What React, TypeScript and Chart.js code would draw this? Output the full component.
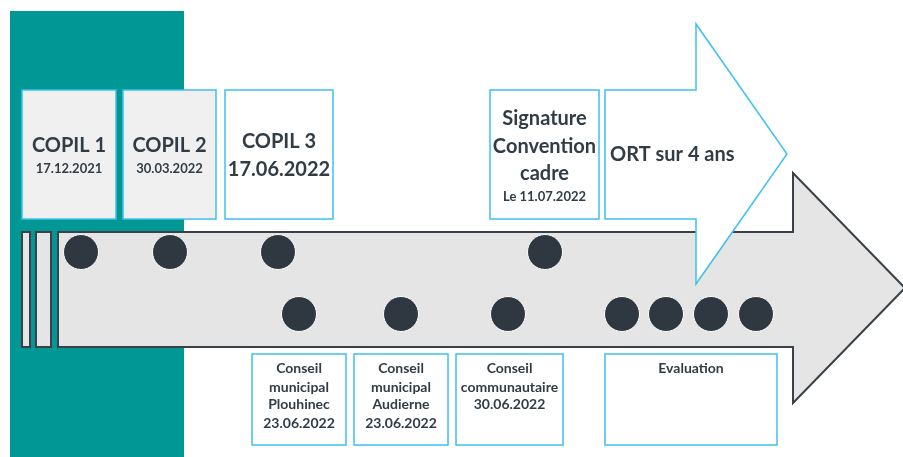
import React, { useEffect, useRef } from "react";
import { Chart, registerables } from "chart.js";

Chart.register(...registerables);

// Milestone markers (x along the timeline, y row)
const milestoneNames = ["COPIL 1", "COPIL 2", "COPIL 3", "Signature", "Plouhinec", "Audierne", "Communautaire", "Eval 1", "Eval 2", "Eval 3", "Eval 4"];
const milestoneX = [81, 170, 278, 545, 299, 401, 508, 622, 666, 711, 756];
const milestoneY = [252, 252, 252, 252, 314, 314, 314, 314, 314, 314, 314];

// Top boxes
const topBoxX0 = [22, 123, 225, 490];
const topBoxX1 = [116, 216, 333, 599];
const topBoxFill = ["#f0f0f0", "#f0f0f0", "#ffffff", "#ffffff"];
const topBoxLines = [
  [["COPIL 1", 20, 146], ["17.12.2021", 13, 169]],
  [["COPIL 2", 20, 146], ["30.03.2022", 13, 169]],
  [["COPIL 3", 20, 142], ["17.06.2022", 20, 170]],
  [["Signature", 20, 119], ["Convention", 20, 147], ["cadre", 20, 174], ["Le 11.07.2022", 13, 197]],
];
const topBoxY = [90, 219];

// Bottom boxes
const bottomBoxX0 = [252, 354, 456, 605];
const bottomBoxX1 = [346, 448, 563, 777];
const bottomBoxY = [354, 445];
const bottomBoxLines = [
  ["Conseil", "municipal", "Plouhinec", "23.06.2022"],
  ["Conseil", "municipal", "Audierne", "23.06.2022"],
  ["Conseil", "communautaire", "30.06.2022"],
  ["Evaluation"],
];
const bottomLineY = [368, 387, 404, 423];

// ORT arrow outline
const ortArrowX = [605, 696, 696, 787, 696, 696, 605];
const ortArrowY = [90, 90, 24, 154, 284, 219, 219];
const ortLabel = "ORT sur 4 ans";

// Grey timeline arrow
const greyArrowX = [58, 793, 793, 905, 793, 793, 58];
const greyArrowY = [232, 232, 173, 288, 403, 347, 347];
const greyBarsX0 = [22, 36];
const greyBarsX1 = [30, 51];

// Teal background panel
const tealX = [10, 184];
const tealY = [11, 457];

const TEXT = "#323c46";
const BLUE = "#3ec1f0";
const FONT = "Lato";

const drawPlugin = {
  id: "timelineShapes",
  beforeDatasetsDraw(chart: any) {
    const { ctx, scales } = chart;
    const px = (v: number) => scales.x.getPixelForValue(v);
    const py = (v: number) => scales.y.getPixelForValue(v);
    ctx.save();
    ctx.fillStyle = "#009794";
    ctx.fillRect(px(tealX[0]), py(tealY[0]), px(tealX[1]) - px(tealX[0]), py(tealY[1]) - py(tealY[0]));

    ctx.lineWidth = 1.5;
    for (let i = 0; i < topBoxX0.length; i++) {
      const x0 = px(topBoxX0[i]), x1 = px(topBoxX1[i]);
      const y0 = py(topBoxY[0]), y1 = py(topBoxY[1]);
      ctx.fillStyle = topBoxFill[i];
      ctx.fillRect(x0, y0, x1 - x0, y1 - y0);
      ctx.strokeStyle = BLUE;
      ctx.strokeRect(x0, y0, x1 - x0, y1 - y0);
    }

    ctx.fillStyle = "#e5e5e5";
    ctx.strokeStyle = "#3a4149";
    ctx.lineWidth = 2;
    ctx.lineJoin = "miter";
    for (let i = 0; i < greyBarsX0.length; i++) {
      const x0 = px(greyBarsX0[i]), x1 = px(greyBarsX1[i]);
      const y0 = py(greyArrowY[0]), y1 = py(greyArrowY[6]);
      ctx.fillRect(x0, y0, x1 - x0, y1 - y0);
      ctx.strokeRect(x0, y0, x1 - x0, y1 - y0);
    }
    ctx.beginPath();
    greyArrowX.forEach((x, i) => {
      if (i === 0) ctx.moveTo(px(x), py(greyArrowY[i]));
      else ctx.lineTo(px(x), py(greyArrowY[i]));
    });
    ctx.closePath();
    ctx.fill();
    ctx.stroke();

    ctx.fillStyle = "#ffffff";
    ctx.strokeStyle = BLUE;
    ctx.lineWidth = 1.5;
    ctx.beginPath();
    ortArrowX.forEach((x, i) => {
      if (i === 0) ctx.moveTo(px(x), py(ortArrowY[i]));
      else ctx.lineTo(px(x), py(ortArrowY[i]));
    });
    ctx.closePath();
    ctx.fill();
    ctx.stroke();

    for (let i = 0; i < bottomBoxX0.length; i++) {
      const x0 = px(bottomBoxX0[i]), x1 = px(bottomBoxX1[i]);
      const y0 = py(bottomBoxY[0]), y1 = py(bottomBoxY[1]);
      ctx.fillStyle = "#ffffff";
      ctx.fillRect(x0, y0, x1 - x0, y1 - y0);
      ctx.strokeRect(x0, y0, x1 - x0, y1 - y0);
    }

    ctx.fillStyle = TEXT;
    ctx.textAlign = "center";
    ctx.textBaseline = "middle";
    for (let i = 0; i < topBoxLines.length; i++) {
      const cx = px((topBoxX0[i] + topBoxX1[i]) / 2);
      for (const [t, s, y] of topBoxLines[i] as any) {
        ctx.font = `bold ${s}px ${FONT}`;
        ctx.fillText(t, cx, py(y));
      }
    }
    for (let i = 0; i < bottomBoxLines.length; i++) {
      const cx = px((bottomBoxX0[i] + bottomBoxX1[i]) / 2);
      bottomBoxLines[i].forEach((t, j) => {
        ctx.font = `bold 14px ${FONT}`;
        ctx.fillText(t, cx, py(bottomLineY[j]));
      });
    }
    ctx.textAlign = "left";
    ctx.font = `bold 20px ${FONT}`;
    ctx.fillText(ortLabel, px(610), py(155));
    ctx.restore();
  },
};

export default function App() {
  const ref = useRef<HTMLCanvasElement>(null);
  useEffect(() => {
    document.body.style.margin = "0";
    const chart = new Chart(ref.current!, {
      type: "scatter",
      data: {
        labels: milestoneNames,
        datasets: [
          {
            label: "Jalons",
            data: milestoneX.map((x, i) => ({ x, y: milestoneY[i] })),
            pointRadius: 17.5,
            pointHoverRadius: 17.5,
            backgroundColor: "#2f3841",
            borderColor: "#ffffff",
            borderWidth: 1,
          },
        ],
      },
      options: {
        responsive: false,
        animation: false,
        devicePixelRatio: 1,
        layout: { padding: 0, autoPadding: false },
        scales: {
          x: { type: "linear", min: 0, max: 903, display: false },
          y: { type: "linear", min: 0, max: 457, reverse: true, display: false },
        },
        plugins: { legend: { display: false }, tooltip: { enabled: false } },
        events: [],
      },
      plugins: [drawPlugin],
    });
    return () => chart.destroy();
  }, []);
  return (
    <div style={{ position: "fixed", left: 0, top: 0, width: 903, height: 457, background: "#fff" }}>
      <canvas ref={ref} width={903} height={457} style={{ width: 903, height: 457, display: "block" }} />
    </div>
  );
}
